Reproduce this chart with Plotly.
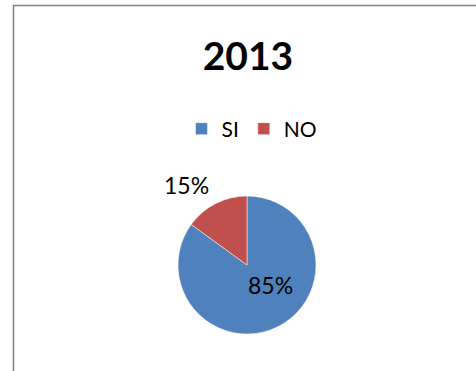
import plotly.graph_objects as go

# Survey answers for 2013
categories = ["SI", "NO"]
values = [85, 15]
colors = ["#4F81BD", "#C0504D"]

W, H = 476, 371
FONT = "Lato"

# pie geometry in pixels
cx, cy, r = 247, 265, 69

fig = go.Figure(
    go.Pie(
        labels=categories,
        values=values,
        marker=dict(colors=colors, line=dict(color="white", width=0.5)),
        sort=False,
        direction="clockwise",
        rotation=0,
        textinfo="none",
        hoverinfo="label+percent",
        domain=dict(x=[(cx - r) / W, (cx + r) / W], y=[1 - (cy + r) / H, 1 - (cy - r) / H]),
    )
)

total = sum(values)
pct = [f"{round(v / total * 100)}%" for v in values]

# percentage labels: SI inside the slice, NO outside upper-left
label_pos = [(270, 285), (186, 185)]
for text, (lx, ly) in zip(pct, label_pos):
    fig.add_annotation(
        x=lx / W, y=1 - ly / H, xref="paper", yref="paper",
        text=text, showarrow=False,
        font=dict(family=FONT, size=23, color="black"),
        xanchor="center", yanchor="middle",
    )

# chart frame
fig.add_shape(
    type="rect", xref="paper", yref="paper",
    x0=13.5 / W, y0=-0.05, x1=1.05, y1=1 - 5.5 / H,
    line=dict(color="#808080", width=1.5), fillcolor="rgba(0,0,0,0)",
)

fig.update_layout(
    width=W, height=H,
    margin=dict(l=0, r=0, t=0, b=0),
    paper_bgcolor="white", plot_bgcolor="white",
    title=dict(
        text="<b>2013</b>", x=248 / W, xanchor="center",
        y=1 - 56 / H, yanchor="middle",
        font=dict(family=FONT, size=39, color="black"),
    ),
    legend=dict(
        orientation="h", x=252 / W, xanchor="center",
        y=1 - 129 / H, yanchor="middle",
        font=dict(family=FONT, size=21, color="black"),
        itemwidth=30, tracegroupgap=0,
    ),
    showlegend=True,
)

fig.write_html("out.html")
